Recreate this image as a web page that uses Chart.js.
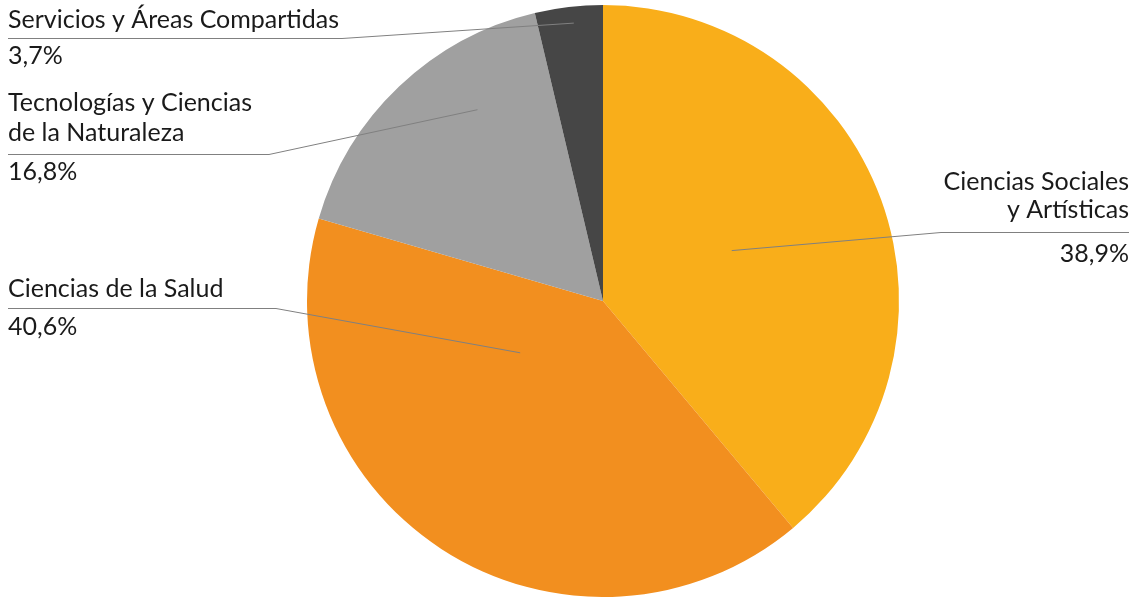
<!DOCTYPE html>
<html>
<head>
<meta charset="utf-8">
<script src="https://cdn.jsdelivr.net/npm/chart.js@4.4.0/dist/chart.umd.min.js"></script>
<style>
  html, body { margin: 0; padding: 0; background: #fff; }
  #wrap { width: 1134px; height: 597px; }
</style>
</head>
<body>
<div id="wrap"><canvas id="pieChart" width="1134" height="597"></canvas></div>
<script>
// Data
const categories = [
    'Ciencias Sociales y Artísticas',
    'Ciencias de la Salud',
    'Tecnologías y Ciencias de la Naturaleza',
    'Servicios y Áreas Compartidas'
];
const labelLines = [
    ['Ciencias Sociales', 'y Artísticas'],
    ['Ciencias de la Salud'],
    ['Tecnologías y Ciencias', 'de la Naturaleza'],
    ['Servicios y Áreas Compartidas']
];
const shares = [38.9, 40.6, 16.8, 3.7];
const sliceColors = ['#F9AE1A', '#F28F1F', '#A0A0A0', '#464646'];

// Where each callout sits (x, text baselines, underline, percent baseline, elbow)
// and where its leader line meets the slice (fraction along the angle, fraction of radius)
const callouts = [
    { align: 'right', x: 1129, lines: [190, 218], rule: 232.5, pct: 262, elbow: 941, along: 0.49, depth: 0.467 },
    { align: 'left',  x: 8,    lines: [297],      rule: 308.5, pct: 335, elbow: 276, along: 0.67, depth: 0.33 },
    { align: 'left',  x: 8,    lines: [111, 141], rule: 154.5, pct: 180, elbow: 269, along: 0.67, depth: 0.773 },
    { align: 'left',  x: 8,    lines: [28],       rule: 38.5,  pct: 64,  elbow: 342, along: 0.55, depth: 0.944 }
];

const calloutPlugin = {
    id: 'callouts',
    afterDraw(chart) {
        const ctx = chart.ctx;
        const arcs = chart.getDatasetMeta(0).data;
        ctx.save();
        arcs.forEach((arc, i) => {
            const c = callouts[i];
            const p = arc.getProps(['x', 'y', 'startAngle', 'endAngle', 'outerRadius'], true);
            const a = p.startAngle + (p.endAngle - p.startAngle) * c.along;
            const r = p.outerRadius * c.depth;
            const ax = p.x + Math.cos(a) * r;
            const ay = p.y + Math.sin(a) * r;

            // leader line
            ctx.strokeStyle = '#808080';
            ctx.lineWidth = 1;
            ctx.beginPath();
            ctx.moveTo(ax, ay);
            ctx.lineTo(c.elbow, c.rule);
            ctx.lineTo(c.x, c.rule);
            ctx.stroke();

            // text
            ctx.fillStyle = '#1a1a1a';
            ctx.font = '25px Lato';
            ctx.textAlign = c.align;
            ctx.textBaseline = 'alphabetic';
            labelLines[i].forEach((t, k) => ctx.fillText(t, c.x, c.lines[k]));
            ctx.fillText(shares[i].toFixed(1).replace('.', ',') + '%', c.x, c.pct);
        });
        ctx.restore();
    }
};

const ctx = document.getElementById('pieChart').getContext('2d');
new Chart(ctx, {
    type: 'pie',
    data: {
        labels: categories,
        datasets: [{
            data: shares,
            backgroundColor: sliceColors,
            borderWidth: 0
        }]
    },
    options: {
        responsive: false,
        animation: false,
        layout: { padding: { left: 72, right: 0, top: 5, bottom: 0 } },
        plugins: {
            legend: { display: false },
            tooltip: { enabled: false }
        }
    },
    plugins: [calloutPlugin]
});
</script>
</body>
</html>
